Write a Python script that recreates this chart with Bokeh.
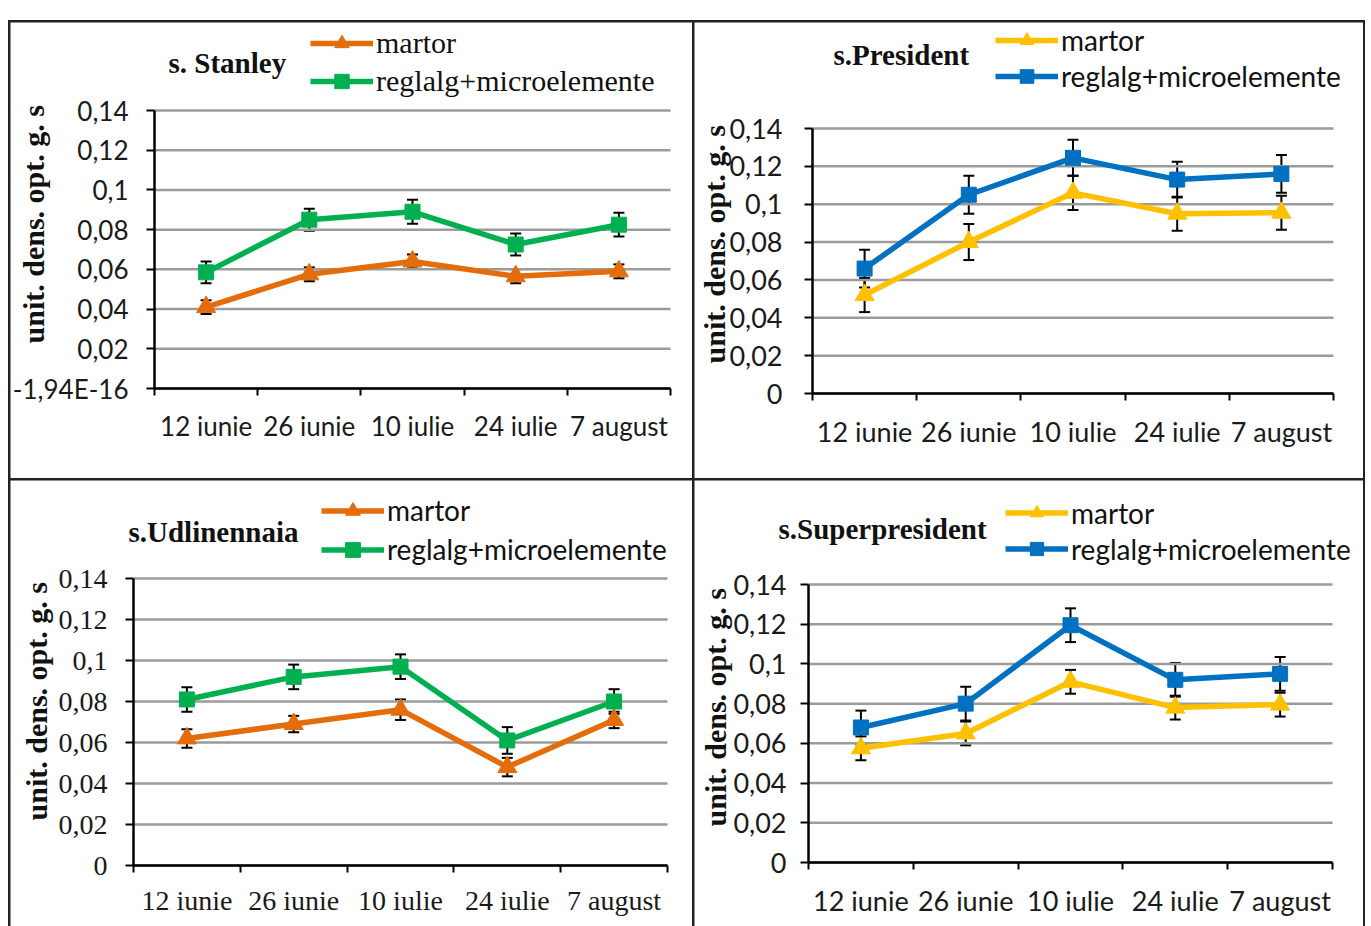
import math
from bokeh.plotting import figure
from bokeh.models import (ColumnDataSource, FixedTicker, Whisker, TeeHead, Legend,
                          LegendItem, Label, Spacer)
from bokeh.layouts import column, row
from bokeh.embed import file_html
from bokeh.resources import INLINE

# ---------------- data ----------------
categories = ["12 iunie", "26 iunie", "10 iulie", "24 iulie", "7 august"]
y_ticks = [0, 0.02, 0.04, 0.06, 0.08, 0.1, 0.12, 0.14]
y_tick_labels = ["0", "0,02", "0,04", "0,06", "0,08", "0,1", "0,12", "0,14"]
y_tick_labels_stanley = ["-1,94E-16", "0,02", "0,04", "0,06", "0,08", "0,1", "0,12", "0,14"]
series_names = ["martor", "reglalg+microelemente"]
y_title = "unit. dens. opt.  g. s"
panel_titles = ["s. Stanley", "s.President", "s.Udlinennaia", "s.Superpresident"]

stanley_martor = [0.041, 0.0575, 0.064, 0.0565, 0.059]
stanley_martor_err = [0.0035, 0.0035, 0.0035, 0.0035, 0.0035]
stanley_reglalg = [0.0585, 0.085, 0.089, 0.0725, 0.0825]
stanley_reglalg_err = [0.0055, 0.0055, 0.006, 0.0055, 0.006]

president_martor = [0.052, 0.080, 0.106, 0.095, 0.0955]
president_martor_err = [0.009, 0.0095, 0.009, 0.009, 0.009]
president_reglalg = [0.066, 0.105, 0.1245, 0.113, 0.116]
president_reglalg_err = [0.010, 0.010, 0.0095, 0.0095, 0.010]

udlin_martor = [0.062, 0.069, 0.076, 0.048, 0.071]
udlin_martor_err = [0.0045, 0.004, 0.005, 0.0045, 0.004]
udlin_reglalg = [0.081, 0.092, 0.097, 0.061, 0.080]
udlin_reglalg_err = [0.006, 0.006, 0.006, 0.0065, 0.006]

super_martor = [0.0575, 0.065, 0.091, 0.078, 0.0795]
super_martor_err = [0.006, 0.006, 0.006, 0.006, 0.006]
super_reglalg = [0.068, 0.080, 0.1195, 0.092, 0.095]
super_reglalg_err = [0.0085, 0.0085, 0.0085, 0.0085, 0.0085]

ORANGE = "#E46C0A"
GREEN = "#00B050"
YELLOW = "#FFC000"
BLUE = "#0070C0"

SERIF = "Liberation Serif"
SANS = "Lato"

NCAT = len(categories)
x_pos = [i + 0.5 for i in range(NCAT)]
Y_MAX = y_ticks[-1]

# layout geometry in page pixels (styling only)
panels = [
    dict(title=panel_titles[0], m=stanley_martor, me=stanley_martor_err,
         r=stanley_reglalg, re=stanley_reglalg_err, cm=ORANGE, cr=GREEN,
         ylabels=y_tick_labels_stanley, tick_font=SANS, tick_size="26px",
         leg_font=SERIF, leg_size="30px",
         fx=10, fy=22, w=682, h=456, ax=154, rx=670, y0=388, y14=110,
         ystand=18, xstand=14,
         title_pt=(168, 62), ytitle_pt=(33, 220), leg_pt=(310, 43), row_gap=38),
    dict(title=panel_titles[1], m=president_martor, me=president_martor_err,
         r=president_reglalg, re=president_reglalg_err, cm=YELLOW, cr=BLUE,
         ylabels=y_tick_labels, tick_font=SANS, tick_size="27px",
         leg_font=SANS, leg_size="28px",
         fx=694, fy=22, w=669, h=456, ax=812, rx=1333, y0=393, y14=128,
         ystand=22, xstand=14,
         title_pt=(833, 54), ytitle_pt=(714, 240), leg_pt=(995, 40), row_gap=36),
    dict(title=panel_titles[2], m=udlin_martor, me=udlin_martor_err,
         r=udlin_reglalg, re=udlin_reglalg_err, cm=ORANGE, cr=GREEN,
         ylabels=y_tick_labels, tick_font=SERIF, tick_size="28px",
         leg_font=SANS, leg_size="28px",
         fx=10, fy=480, w=682, h=446, ax=133, rx=667, y0=865, y14=578,
         ystand=18, xstand=12,
         title_pt=(128, 531), ytitle_pt=(36, 697), leg_pt=(321, 510), row_gap=39),
    dict(title=panel_titles[3], m=super_martor, me=super_martor_err,
         r=super_reglalg, re=super_reglalg_err, cm=YELLOW, cr=BLUE,
         ylabels=y_tick_labels, tick_font=SANS, tick_size="27px",
         leg_font=SANS, leg_size="28px",
         fx=694, fy=480, w=669, h=446, ax=808, rx=1332, y0=862, y14=584,
         ystand=14, xstand=14,
         title_pt=(778, 528), ytitle_pt=(715, 703), leg_pt=(1005, 514), row_gap=35),
]


def make_panel(cfg):
    fx, fy, w, h = cfg["fx"], cfg["fy"], cfg["w"], cfg["h"]
    ppx = (cfg["rx"] - cfg["ax"]) / NCAT
    ppy = (cfg["y0"] - cfg["y14"]) / Y_MAX
    x_start = -(cfg["ax"] - fx) / ppx
    x_end = NCAT + (fx + w - cfg["rx"]) / ppx
    y_start = -(fy + h - cfg["y0"]) / ppy
    y_end = Y_MAX + (cfg["y14"] - fy) / ppy

    p = figure(width=w, height=h, x_range=(x_start, x_end), y_range=(y_start, y_end),
               output_backend="svg", toolbar_location=None, title=None,
               min_border_left=0, min_border_right=0,
               min_border_top=0, min_border_bottom=0)
    p.outline_line_color = None
    p.background_fill_color = "white"
    p.border_fill_color = "white"
    p.xgrid.grid_line_color = None
    p.ygrid.grid_line_color = None

    # horizontal gridlines only across the category span
    p.segment(x0=[0] * len(y_ticks), x1=[NCAT] * len(y_ticks), y0=y_ticks, y1=y_ticks,
              line_color="#9b9b9b", line_width=2.5)

    xa = p.xaxis[0]
    xa.fixed_location = 0
    xa.bounds = (0, NCAT)
    xa.ticker = FixedTicker(ticks=x_pos, minor_ticks=list(range(NCAT + 1)))
    xa.major_label_overrides = {x: c for x, c in zip(x_pos, categories)}
    xa.major_tick_line_color = None
    xa.major_tick_out = 0
    xa.major_tick_in = 0
    xa.minor_tick_line_color = "black"
    xa.minor_tick_line_width = 2
    xa.minor_tick_out = 7
    xa.minor_tick_in = 0
    xa.axis_line_color = "black"
    xa.axis_line_width = 2.5
    xa.major_label_text_font = cfg["tick_font"]
    xa.major_label_text_font_size = cfg["tick_size"]
    xa.major_label_text_color = "#1a1a1a"
    xa.major_label_standoff = cfg["xstand"]

    ya = p.yaxis[0]
    ya.fixed_location = 0
    ya.bounds = (0, Y_MAX)
    ya.ticker = FixedTicker(ticks=y_ticks)
    ya.major_label_overrides = {t: l for t, l in zip(y_ticks, cfg["ylabels"])}
    ya.major_tick_line_color = "black"
    ya.major_tick_line_width = 2
    ya.major_tick_out = 8
    ya.major_tick_in = 0
    ya.minor_tick_line_color = None
    ya.axis_line_color = "black"
    ya.axis_line_width = 2.5
    ya.major_label_text_font = cfg["tick_font"]
    ya.major_label_text_font_size = cfg["tick_size"]
    ya.major_label_text_color = "#1a1a1a"
    ya.major_label_standoff = cfg["ystand"]

    src_m = ColumnDataSource(dict(x=x_pos, y=cfg["m"],
                                  lo=[v - e for v, e in zip(cfg["m"], cfg["me"])],
                                  hi=[v + e for v, e in zip(cfg["m"], cfg["me"])]))
    src_r = ColumnDataSource(dict(x=x_pos, y=cfg["r"],
                                  lo=[v - e for v, e in zip(cfg["r"], cfg["re"])],
                                  hi=[v + e for v, e in zip(cfg["r"], cfg["re"])]))

    lm = p.line("x", "y", source=src_m, line_color=cfg["cm"], line_width=5.5)
    sm = p.scatter("x", "y", source=src_m, marker="triangle", size=19,
                   fill_color=cfg["cm"], line_color=cfg["cm"])
    lr = p.line("x", "y", source=src_r, line_color=cfg["cr"], line_width=5.5)
    sr = p.scatter("x", "y", source=src_r, marker="square", size=15,
                   fill_color=cfg["cr"], line_color=cfg["cr"])

    for src in (src_m, src_r):
        wk = Whisker(base="x", lower="lo", upper="hi", source=src, dimension="height",
                     line_color="black", line_width=2,
                     upper_head=TeeHead(size=11, line_color="black", line_width=2),
                     lower_head=TeeHead(size=11, line_color="black", line_width=2))
        p.add_layout(wk)

    # frame-relative screen coordinates (frame bottom-left = figure bottom-left)
    fb = fy + h

    def sxy(pt):
        return pt[0] - fx, fb - pt[1]

    gh = cfg["row_gap"] - 2
    lx, ly_center = cfg["leg_pt"]
    leg_top = ly_center - gh / 2
    leg_h = 2 * gh + 2
    legend = Legend(items=[LegendItem(label=series_names[0], renderers=[lm, sm]),
                           LegendItem(label=series_names[1], renderers=[lr, sr])],
                    location=(lx - fx, fb - leg_top - leg_h), orientation="vertical",
                    glyph_width=63, glyph_height=gh, label_height=gh,
                    spacing=2, padding=0, margin=0, label_standoff=3,
                    border_line_color=None, background_fill_alpha=0,
                    label_text_font=cfg["leg_font"], label_text_font_size=cfg["leg_size"],
                    label_text_color="#111111")
    p.add_layout(legend)

    tx, ty = sxy(cfg["title_pt"])
    p.add_layout(Label(x=tx, y=ty, x_units="screen", y_units="screen", text=cfg["title"],
                       text_align="left", text_baseline="middle", text_font=SERIF,
                       text_font_style="bold", text_font_size="29px", text_color="#111111"))
    yx, yy = sxy(cfg["ytitle_pt"])
    p.add_layout(Label(x=yx, y=yy, x_units="screen", y_units="screen", text=y_title,
                       angle=math.pi / 2, text_align="center", text_baseline="middle",
                       text_font=SERIF, text_font_style="bold", text_font_size="30px",
                       text_color="#111111"))
    return p


figs = [make_panel(c) for c in panels]

outer = column(row(column(figs[0]), column(figs[1]), spacing=2),
               row(column(figs[2]), column(figs[3]), spacing=2),
               spacing=2,
               styles={"background-color": "#222222", "padding": "2px 2px 0px 2px"})
page = column(Spacer(width=10, height=20), row(Spacer(width=8, height=10), outer))

open("out.html", "w").write(file_html(page, INLINE))
